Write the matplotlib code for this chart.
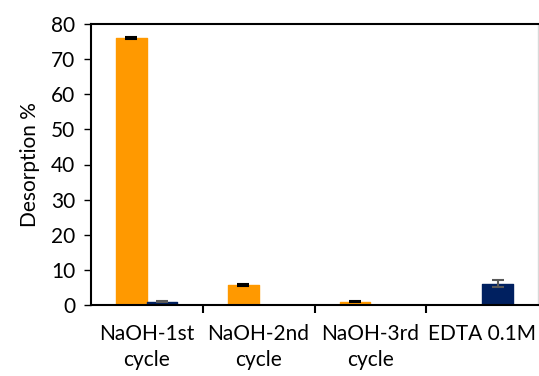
import matplotlib.pyplot as plt
import numpy as np

plt.rcParams['font.family'] = ['Lato', 'DejaVu Sans']

# Data
categories = ["NaOH-1st\ncycle", "NaOH-2nd\ncycle", "NaOH-3rd\ncycle", "EDTA 0.1M"]
naoh_vals = [76.0, 5.7, 0.9, 0]
naoh_err = [0.3, 0.2, 0.2, 0]
edta_vals = [0.9, 0, 0, 6.1]
edta_err = [0.2, 0, 0, 1.0]

orange = "#FF9900"
navy = "#002060"

fig = plt.figure(figsize=(5.39, 3.76), dpi=100)
ax = fig.add_axes([0.168, 0.189, 0.831, 0.747])

x = np.arange(len(categories))
w = 0.27

for i in range(len(x)):
    if naoh_vals[i] > 0:
        ax.bar(x[i] - w / 2, naoh_vals[i], w, color=orange, edgecolor=orange,
               linewidth=1, joinstyle="round", zorder=2)
        ax.errorbar(x[i] - w / 2, naoh_vals[i], yerr=naoh_err[i], fmt="none",
                    ecolor="black", elinewidth=1.5, capsize=4.5, capthick=1.5, zorder=3)
    if edta_vals[i] > 0:
        ax.bar(x[i] + w / 2, edta_vals[i], w, color=navy, edgecolor=navy,
               linewidth=1, joinstyle="round", zorder=2)
        ax.errorbar(x[i] + w / 2, edta_vals[i], yerr=edta_err[i], fmt="none",
                    ecolor="#595959", elinewidth=1.5, capsize=4.5, capthick=1.5, zorder=3)

ax.set_xlim(-0.5, 3.5)
ax.set_ylim(0, 80)
ax.set_yticks(range(0, 81, 10))
ax.tick_params(axis="y", labelsize=15, length=5, width=1, direction="out", pad=6)

ax.set_xticks(x)
ax.set_xticklabels(categories, fontsize=15, linespacing=1.35)
ax.tick_params(axis="x", length=0, pad=14)
ax.set_xticks([0.5, 1.5, 2.5], minor=True)
ax.tick_params(axis="x", which="minor", length=6, width=1.5, direction="out")

ax.set_ylabel("Desorption %", fontsize=15, labelpad=8)

for s in ["left", "bottom", "top"]:
    ax.spines[s].set_color("black")
    ax.spines[s].set_linewidth(1.5)
ax.spines["right"].set_color("#d9d9d9")
ax.spines["right"].set_linewidth(1)

fig.savefig("out.png", dpi=100)
